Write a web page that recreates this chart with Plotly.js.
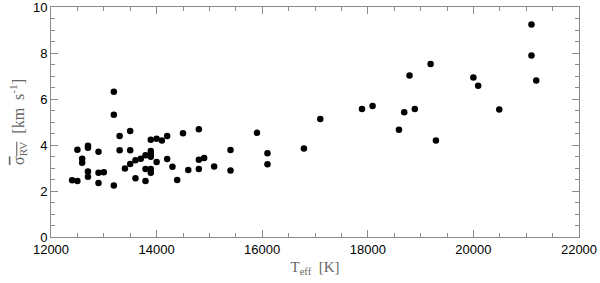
<!DOCTYPE html>
<html>
<head>
<meta charset="utf-8">
<script src="https://cdn.plot.ly/plotly-3.0.1.min.js"></script>
<style>html,body{margin:0;padding:0;background:#fff;}#chart{width:600px;height:283px;}</style>
</head>
<body>
<div id="chart"></div>
<script>
// Effective temperature (K)
const teff = [
  13190, 13190, 13300, 13500, 14500, 14800, 12500, 12700, 12700, 12900,
  13300, 13500, 13890, 14000, 14100, 14200, 13890, 13890, 13890, 13790,
  13700, 13600, 13500, 13400, 14000, 14200, 14300, 14800, 14900, 15400,
  15400, 15090, 14600, 14800, 12590, 12590, 12700, 12700, 12900, 13000,
  12900, 12400, 12500, 13190, 13600, 13790, 13890, 13890, 13790, 14390,
  15900, 16100, 16100, 16790, 17100, 17890, 18090, 18690, 18890, 18590,
  18790, 19190, 19290, 20000, 20090, 20490, 21100, 21100, 21190
];
// Mean RV scatter (km/s)
const sigmaRV = [
  6.32, 5.31, 4.39, 4.61, 4.51, 4.68, 3.79, 3.97, 3.88, 3.71,
  3.77, 3.77, 4.23, 4.27, 4.20, 4.39, 3.74, 3.61, 3.49, 3.55,
  3.40, 3.34, 3.17, 2.98, 3.26, 3.39, 3.05, 3.36, 3.43, 3.78,
  2.89, 3.07, 2.91, 2.96, 3.40, 3.23, 2.85, 2.62, 2.79, 2.81,
  2.35, 2.47, 2.43, 2.24, 2.55, 2.44, 2.79, 2.96, 2.96, 2.48,
  4.53, 3.64, 3.16, 3.85, 5.13, 5.57, 5.70, 5.42, 5.57, 4.66,
  7.02, 7.52, 4.20, 6.93, 6.58, 5.54, 9.24, 7.89, 6.80
];
const xTickVals = [12000, 14000, 16000, 18000, 20000, 22000];
const yTickVals = [0, 2, 4, 6, 8, 10];

const axisCommon = {
  showgrid: false, zeroline: false,
  showline: true, linecolor: '#8a8a8a', linewidth: 1,
  mirror: 'allticks', ticks: 'inside', ticklen: 7, tickcolor: '#8a8a8a', tickwidth: 1,
  ticklabeloverflow: 'allow',
  tickfont: {family: 'Liberation Sans, Arial, sans-serif', size: 13, color: '#000'}
};

Plotly.newPlot('chart', [{
  x: teff, y: sigmaRV, type: 'scatter', mode: 'markers',
  marker: {color: '#000', size: 6.5, line: {width: 0}},
  hoverinfo: 'skip'
}], {
  width: 600, height: 283,
  margin: {l: 51, r: 21, t: 7, b: 46},
  paper_bgcolor: '#fff', plot_bgcolor: '#fff',
  showlegend: false,
  xaxis: Object.assign({}, axisCommon, {
    range: [12000, 22000], tickvals: xTickVals, ticktext: xTickVals.map(String),
    minor: {dtick: 500, ticks: 'inside', ticklen: 4, tickcolor: '#8a8a8a', showgrid: false},
    title: {text: 'T<sub>eff</sub>  [K]', standoff: 5,
      font: {family: 'Liberation Serif, Times New Roman, serif', size: 15, color: '#666'}}
  }),
  yaxis: Object.assign({}, axisCommon, {
    range: [0, 10], tickvals: yTickVals, ticktext: yTickVals.map(String),
    minor: {dtick: 0.5, ticks: 'inside', ticklen: 4, tickcolor: '#8a8a8a', showgrid: false},
    title: {text: '<span style="text-decoration:overline">σ<sub>RV</sub></span>  [km  s<sup>-1</sup>]', standoff: 4,
      font: {family: 'Liberation Serif, Times New Roman, serif', size: 16, color: '#666'}}
  })
}, {displayModeBar: false, staticPlot: true});
</script>
</body>
</html>
